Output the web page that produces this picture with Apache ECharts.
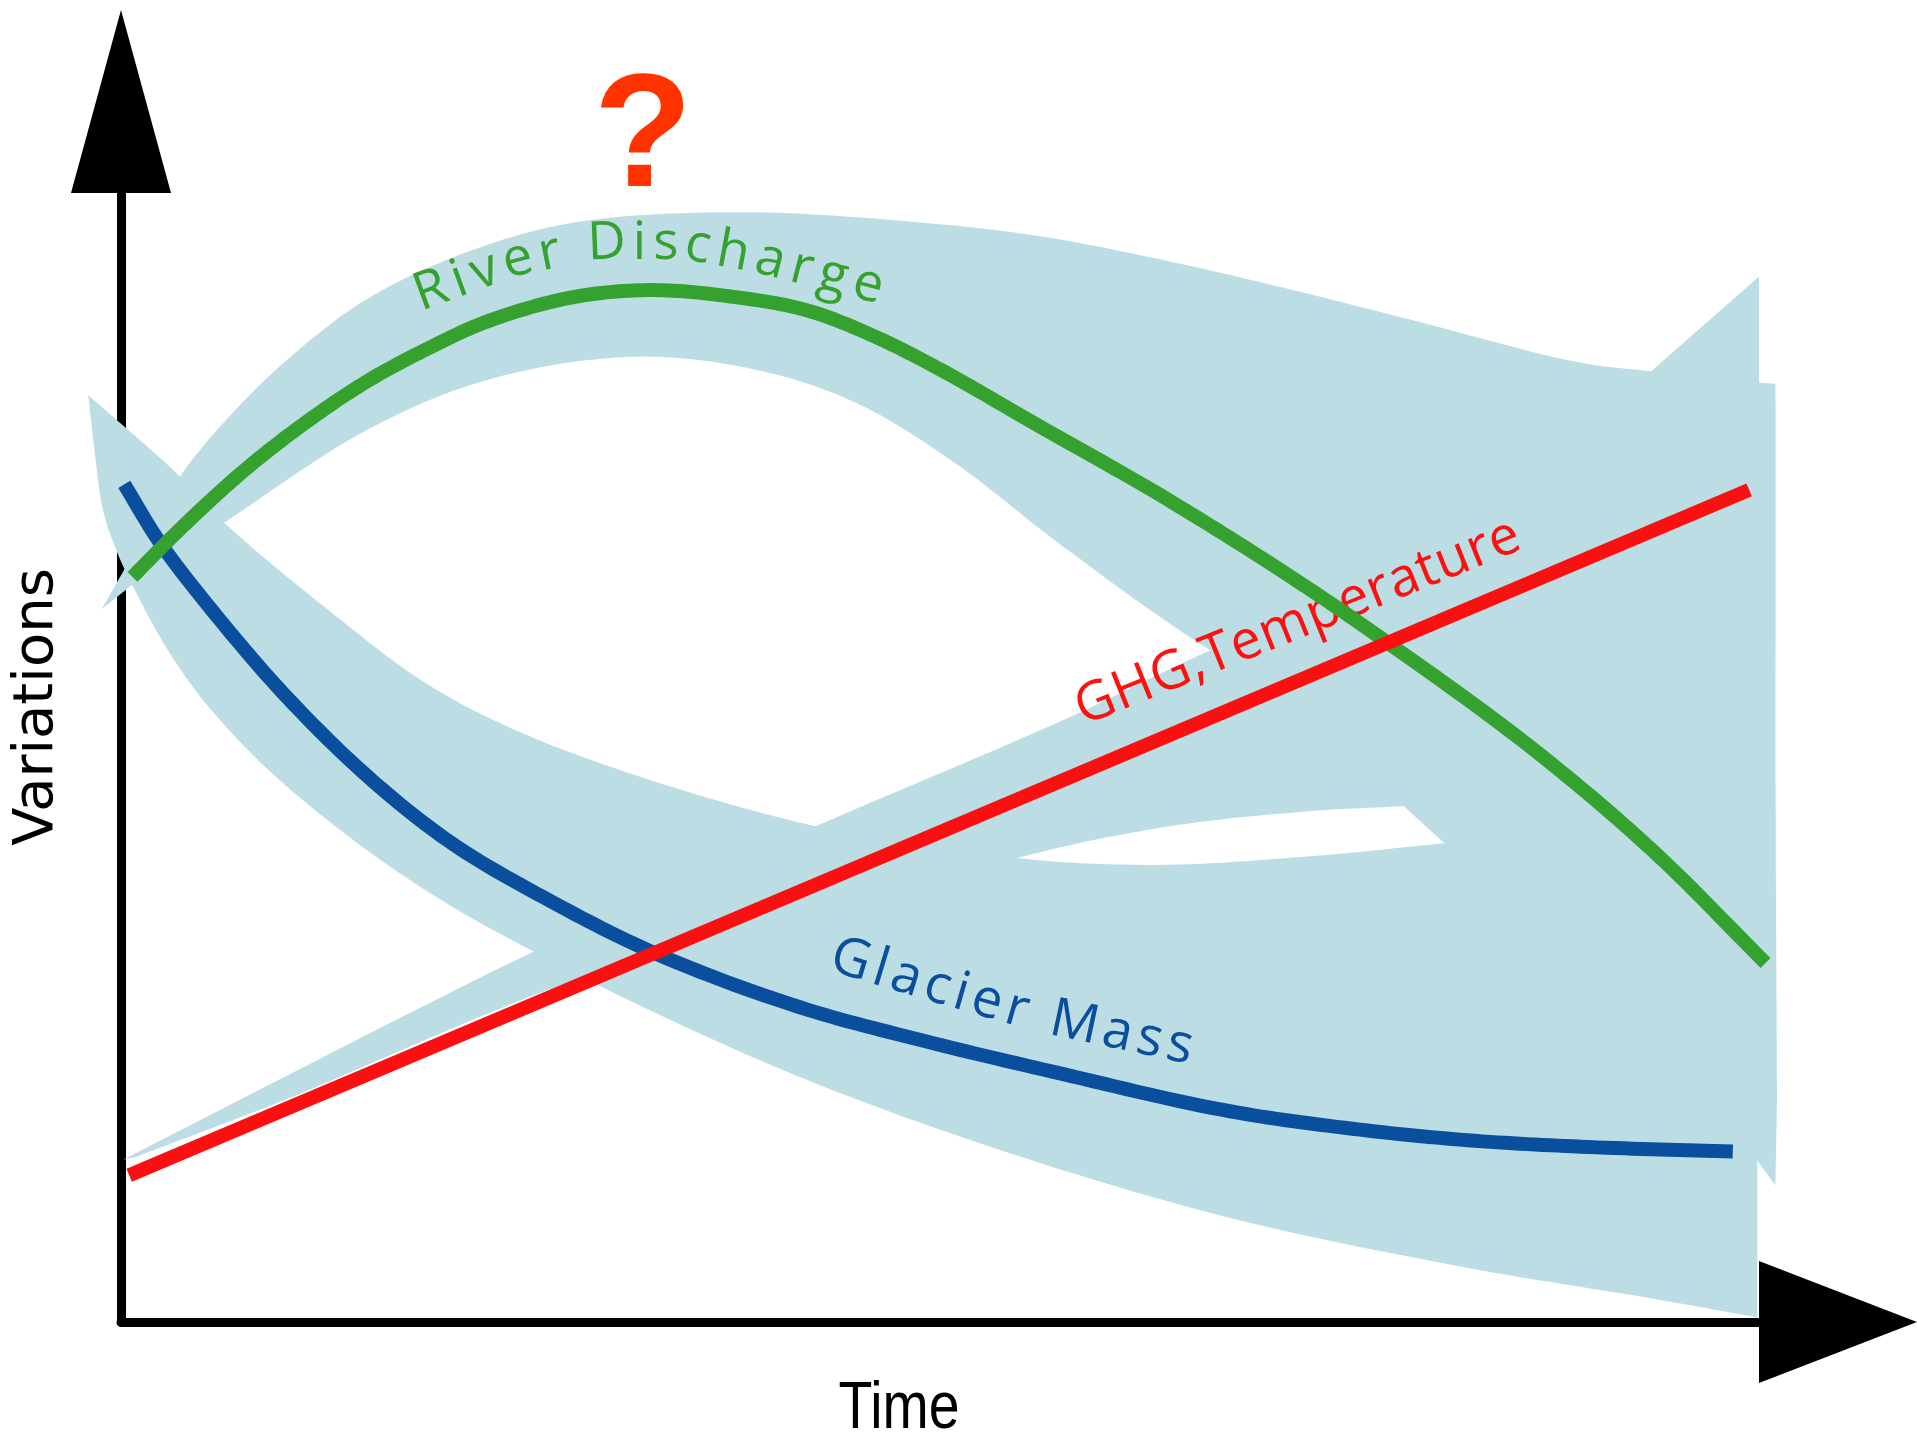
<!DOCTYPE html>
<html lang="en">
<head>
    <meta charset="UTF-8">
    <title>Glacier Mass, River Discharge, GHG</title>
    <script src="https://cdn.jsdelivr.net/npm/echarts@6/dist/echarts.min.js"></script>
    <style type="text/css">
        html, body { margin: 0; padding: 0; background: #fff; }
        #chart { width: 1917px; height: 1440px; }
    </style>
</head>
<body>
<div id="chart"></div>
<script type="text/javascript">
    // curves, time 0-100 / variation 0-100
    var riverDischarge = [[0.7, 66.0], [3.8, 70.5], [7.5, 75.4], [11.3, 79.7], [15.0, 83.3], [18.7, 86.2], [22.5, 88.7],
        [27.7, 90.8], [32.5, 91.4], [37.4, 90.8], [41.9, 89.6], [46.0, 87.3], [50.1, 84.3], [56.0, 79.4], [63.5, 73.2],
        [71.0, 66.4], [76.9, 60.6], [85.9, 51.1], [93.4, 41.9], [100.4, 31.8]];
    var glacierMass = [[0.2, 74.2], [2.3, 69.2], [5.3, 63.5], [9.9, 55.7], [15.0, 48.4], [20.2, 42.4], [26.2, 37.3],
        [32.7, 32.6], [41.4, 27.9], [49.3, 24.8], [56.8, 22.2], [67.2, 18.8], [74.7, 17.2], [82.2, 16.1], [89.6, 15.5],
        [98.4, 15.1]];
    var ghgTemperature = [[0.5, 13.0], [99.4, 73.7]];

    // uncertainty bands: outline split into edges; smooth edges are curved, the others are straight runs
    var riverBandEdges = [
        [[-1.2, 63.1], [3.6, 74.9], [6.8, 80.5], [10.2, 85.3], [15.0, 90.6], [21.0, 94.7], [27.7, 97.4], [37.9, 98.3],
            [48.7, 97.4], [56.0, 96.2], [63.5, 94.1], [71.0, 91.6], [78.4, 88.9], [89.0, 85.0], [93.4, 84.2]],
        [[93.4, 84.2], [100.0, 92.6], [100.0, 83.2], [101.0, 83.1], [101.0, 63.0], [100.9, 25.1]],
        [[100.9, 25.1], [89.6, 38.1], [78.4, 50.0], [66.5, 59.5], [57.5, 68.7], [50.8, 76.2], [44.9, 81.4], [38.9, 84.3],
            [31.4, 85.5], [22.5, 83.5], [15.0, 79.0], [6.3, 70.8], [2.3, 67.1], [-1.2, 63.1]]
    ];
    var riverBandSmooth = [true, false, true];

    var ghgBandEdges = [
        [[0.15, 14.4], [18.9, 28.3], [25.2, 32.8], [42.4, 43.9], [57.5, 53.3], [66.5, 59.5], [89.6, 73.8], [101.0, 81.4]],
        [[101.0, 81.4], [101.0, 41.3], [80.8, 42.4], [78.3, 45.7]],
        [[78.3, 45.7], [72.2, 45.2], [64.0, 43.9], [54.7, 41.1], [44.9, 36.5], [28.8, 30.8], [9.7, 19.5], [0.15, 14.2]]
    ];
    var ghgBandSmooth = [true, false, true];

    var glacierBandEdges = [
        [[-2.0, 82.1], [3.6, 74.9], [6.3, 70.8], [12.8, 62.9], [18.7, 56.5], [24.6, 52.1], [33.4, 47.5], [42.4, 43.9],
            [48.6, 42.2], [54.7, 41.1], [57.9, 40.7], [64.0, 40.5], [72.2, 41.2], [80.8, 42.4]],
        [[80.8, 42.4], [89.6, 45.1], [101.0, 47.8], [101.1, 19.7], [101.0, 12.1], [99.9, 14.3], [99.9, 0.4]],
        [[99.9, 0.4], [93.4, 2.1], [82.2, 4.8], [67.2, 9.4], [52.3, 15.9], [41.1, 21.9], [31.3, 28.3], [25.2, 32.8],
            [20.2, 36.8], [15.0, 41.8], [9.0, 48.9], [5.0, 55.1], [2.7, 59.9], [0.75, 65.1], [-0.3, 68.4], [-1.1, 71.9],
            [-1.6, 77.0], [-2.0, 82.1]]
    ];
    var glacierBandSmooth = [true, false, true];

    var bandEdges = [riverBandEdges, ghgBandEdges, glacierBandEdges];
    var bandSmooth = [riverBandSmooth, ghgBandSmooth, glacierBandSmooth];

    // curve labels and the line they follow
    var labelTexts = ['River Discharge', 'GHG,Temperature', 'Glacier Mass'];
    var labelColors = ['#35a12e', '#ff1010', '#0a4f9e'];
    var labelSizes = [53, 54, 54];
    var riverLabelPath = [[18.0, 90.8], [24.0, 94.0], [29.2, 95.5], [34.4, 95.5], [38.9, 94.3], [46.5, 91.5]];
    var ghgLabelPath = [[58.4, 54.1], [85.3, 69.8]];
    var glacierLabelPath = [[43.4, 32.5], [49.3, 29.9], [56.0, 27.1], [65.4, 24.2]];
    var labelPaths = [riverLabelPath, ghgLabelPath, glacierLabelPath];

    var measureCtx = document.createElement('canvas').getContext('2d');

    // centripetal catmull-rom through pixel points
    function curvePoints(pts, steps) {
        var n = pts.length, out = [];
        function lerp(a, b, ta, tb, t) {
            var k = (t - ta) / (tb - ta);
            return [a[0] + (b[0] - a[0]) * k, a[1] + (b[1] - a[1]) * k];
        }
        function dist(a, b) {
            return Math.pow(Math.sqrt((a[0] - b[0]) * (a[0] - b[0]) + (a[1] - b[1]) * (a[1] - b[1])), 0.5) || 1e-6;
        }
        for (var i = 0; i < n - 1; i++) {
            var p1 = pts[i], p2 = pts[i + 1];
            var p0 = i > 0 ? pts[i - 1] : [2 * p1[0] - p2[0], 2 * p1[1] - p2[1]];
            var p3 = i < n - 2 ? pts[i + 2] : [2 * p2[0] - p1[0], 2 * p2[1] - p1[1]];
            var t0 = 0, t1 = t0 + dist(p0, p1), t2 = t1 + dist(p1, p2), t3 = t2 + dist(p2, p3);
            for (var s = 0; s < steps; s++) {
                var t = t1 + (t2 - t1) * s / steps;
                var a1 = lerp(p0, p1, t0, t1, t), a2 = lerp(p1, p2, t1, t2, t), a3 = lerp(p2, p3, t2, t3, t);
                var b1 = lerp(a1, a2, t0, t2, t), b2 = lerp(a2, a3, t1, t3, t);
                out.push(lerp(b1, b2, t1, t2, t));
            }
        }
        out.push(pts[n - 1]);
        return out;
    }

    // one smooth stroke through a whole series, drawn at its first item
    function curveSeries(name, values, color) {
        return {
            name: name,
            type: 'custom',
            silent: true,
            data: values,
            renderItem: function (params, api) {
                if (params.dataIndex !== 0) return;
                var px = values.map(function (p) { return api.coord(p); });
                return {
                    type: 'polyline',
                    shape: {points: curvePoints(px, 16)},
                    style: {stroke: color, lineWidth: 14, fill: null, lineCap: 'butt', lineJoin: 'round'}
                };
            }
        };
    }

    // lay the characters of a text along a polyline, spread to fill it
    function textAlongPath(text, path, font, color, api) {
        var pts = path.map(function (p) { return api.coord(p); });
        var segs = [], total = 0;
        for (var i = 1; i < pts.length; i++) {
            var dx = pts[i][0] - pts[i - 1][0], dy = pts[i][1] - pts[i - 1][1];
            var len = Math.sqrt(dx * dx + dy * dy);
            segs.push({x: pts[i - 1][0], y: pts[i - 1][1], dx: dx, dy: dy, len: len, start: total});
            total += len;
        }
        function pointAt(s) {
            s = Math.max(0, Math.min(total, s));
            var seg = segs[segs.length - 1];
            for (var j = 0; j < segs.length; j++) {
                if (s <= segs[j].start + segs[j].len) { seg = segs[j]; break; }
            }
            var t = (s - seg.start) / seg.len;
            return [seg.x + seg.dx * t, seg.y + seg.dy * t];
        }
        measureCtx.font = font;
        var widths = text.split('').map(function (ch) { return measureCtx.measureText(ch).width; });
        var sum = widths.reduce(function (a, b) { return a + b; }, 0);
        var gap = (total - sum) / (text.length - 1);
        var children = [], s = 0;
        for (var k = 0; k < text.length; k++) {
            var mid = s + widths[k] / 2;
            var p = pointAt(mid), a = pointAt(mid - 12), b = pointAt(mid + 12);
            children.push({
                type: 'text',
                x: p[0], y: p[1],
                rotation: -Math.atan2(b[1] - a[1], b[0] - a[0]),
                style: {text: text[k], font: font, fill: color, align: 'center', verticalAlign: 'middle'}
            });
            s += widths[k] + gap;
        }
        return children;
    }

    var myChart = echarts.init(document.getElementById('chart'));
    var option = {
        animation: false,
        backgroundColor: '#ffffff',
        grid: {left: 121, right: 158, top: 193, bottom: 118},
        xAxis: {
            type: 'value', min: 0, max: 100,
            axisLine: {
                show: true,
                symbol: ['none', 'triangle'],
                symbolSize: [122, 158],
                symbolOffset: [0, 79],
                lineStyle: {color: '#000', width: 9}
            },
            axisTick: {show: false}, axisLabel: {show: false}, splitLine: {show: false}
        },
        yAxis: {
            type: 'value', min: 0, max: 100,
            axisLine: {
                show: true,
                symbol: ['none', 'triangle'],
                symbolSize: [100, 183],
                symbolOffset: [0, 91.5],
                lineStyle: {color: '#000', width: 9}
            },
            axisTick: {show: false}, axisLabel: {show: false}, splitLine: {show: false}
        },
        graphic: [
            {
                type: 'text', x: 643, y: 141,
                style: {text: '?', font: 'bold 162px "Liberation Sans"', fill: '#ff3300', align: 'center', verticalAlign: 'middle'}
            },
            {
                type: 'text', x: 37, y: 707, rotation: Math.PI / 2,
                style: {text: 'Variations', font: '56px "DejaVu Sans"', fill: '#000', align: 'center', verticalAlign: 'middle'}
            },
            {
                type: 'text', x: 899, y: 1410, scaleX: 0.84,
                style: {text: 'Time', font: '66px "Liberation Sans"', fill: '#000', align: 'center', verticalAlign: 'middle'}
            }
        ],
        series: [
            {
                name: 'bands',
                type: 'custom',
                silent: true,
                data: bandEdges.map(function (b, i) { return [i]; }),
                renderItem: function (params, api) {
                    var edges = bandEdges[params.dataIndex], smooth = bandSmooth[params.dataIndex];
                    var pts = [];
                    edges.forEach(function (edge, e) {
                        var px = edge.map(function (p) { return api.coord(p); });
                        var run = smooth[e] ? curvePoints(px, 14) : px;
                        pts = pts.concat(run.slice(0, run.length - 1));
                    });
                    return {type: 'polygon', shape: {points: pts}, style: {fill: '#bddde5'}};
                }
            },
            {
                name: 'GHG, Temperature',
                type: 'line',
                data: ghgTemperature,
                symbol: 'none',
                clip: false,
                lineStyle: {color: '#fa1010', width: 14, cap: 'butt'}
            },
            curveSeries('Glacier Mass', glacierMass, '#0a4f9e'),
            {
                name: 'labels',
                type: 'custom',
                silent: true,
                data: labelTexts.map(function (t, i) { return [i]; }),
                renderItem: function (params, api) {
                    var i = params.dataIndex;
                    return {
                        type: 'group',
                        children: textAlongPath(labelTexts[i], labelPaths[i],
                            labelSizes[i] + 'px "Open Sans"', labelColors[i], api)
                    };
                }
            },
            curveSeries('River Discharge', riverDischarge, '#35a12e')
        ]
    };
    myChart.setOption(option);
</script>
</body>
</html>
